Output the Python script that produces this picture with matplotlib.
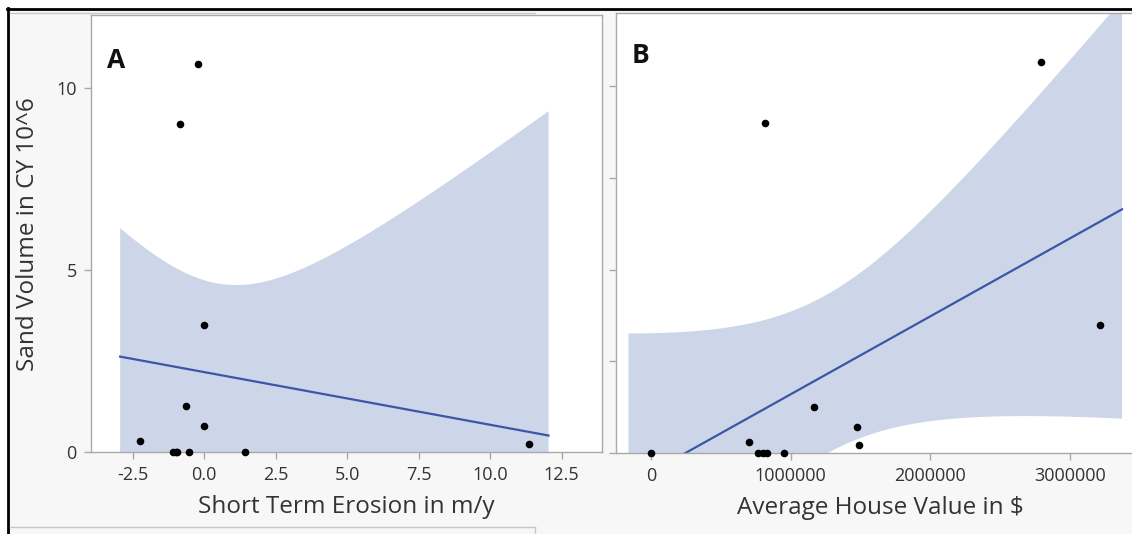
import numpy as np
import matplotlib.pyplot as plt
from matplotlib.lines import Line2D
from matplotlib.patches import Rectangle

plt.rcParams['font.family'] = ['Open Sans', 'DejaVu Sans']

# data (same sand volumes, two predictors)
sand_volume = [10.65, 9.0, 3.5, 1.26, 0.72, 0.3, 0.22, 0, 0, 0, 0, 0]
erosion = [-0.21, -0.83, -0.02, -0.65, -0.02, -2.26, 11.36, -1.08, -1.0, -0.94, -0.54, 1.44]
house_value = [2790000, 815000, 3210000, 1164000, 1477000, 703000, 1490000,
               0, 770000, 800000, 830000, 952000]

erosion_ticks = [-2.5, 0, 2.5, 5, 7.5, 10, 12.5]
erosion_labels = ['-2.5', '0.0', '2.5', '5.0', '7.5', '10.0', '12.5']
house_ticks = [0, 1000000, 2000000, 3000000]
house_labels = ['0', '1000000', '2000000', '3000000']
volume_ticks = [0, 5, 10]

T_CRIT = 2.228  # t(0.975, df=10)

W, H = 1132, 534
spine_col = '#a9a9a9'
text_col = '#333333'
band_col = '#cdd6e8'
line_col = '#3b56a6'


def fit_band(x, y):
    x = np.asarray(x, float)
    y = np.asarray(y, float)
    n = len(x)
    slope, icpt = np.polyfit(x, y, 1)
    pad = 0.05 * (x.max() - x.min())
    xs = np.linspace(x.min() - pad, x.max() + pad, 300)
    yhat = icpt + slope * xs
    resid = y - (icpt + slope * x)
    s = np.sqrt(np.sum(resid ** 2) / (n - 2))
    half = T_CRIT * s * np.sqrt(1 / n + (xs - x.mean()) ** 2 / np.sum((x - x.mean()) ** 2))
    return xs, yhat, yhat - half, yhat + half


def px_axes(left, top, right, bottom):
    return [left / W, 1 - bottom / H, (right - left) / W, (bottom - top) / H]


def style(ax):
    for sp in ax.spines.values():
        sp.set_color(spine_col)
        sp.set_linewidth(1.0)
    ax.tick_params(colors=spine_col, labelcolor=text_col, length=5, width=1,
                   labelsize=13, pad=5)


fig = plt.figure(figsize=(W / 100, H / 100), dpi=100, facecolor='#f7f7f7')

# panel A
axA = fig.add_axes(px_axes(90.7, 15, 601.7, 452.3))
xs, yh, lo, hi = fit_band(erosion, sand_volume)
axA.fill_between(xs, lo, hi, color=band_col, lw=0, zorder=1)
axA.plot(xs, yh, color=line_col, lw=1.6, zorder=2)
axA.scatter(erosion, sand_volume, s=20, color='black', zorder=3, clip_on=False)
axA.set_xlim(-3.97, 13.9)
axA.set_ylim(0, 12)
axA.set_xticks(erosion_ticks)
axA.set_xticklabels(erosion_labels)
axA.set_yticks(volume_ticks)
style(axA)
axA.set_xlabel('Short Term Erosion in m/y', fontsize=17.5, color=text_col, labelpad=8)
axA.set_ylabel('Sand Volume in CY 10^6', fontsize=17.5, color=text_col, labelpad=12)
axA.text(0.031, 0.927, 'A', transform=axA.transAxes, fontsize=19,
         fontweight='bold', va='top', ha='left', color='#111111')

# panel B
axB = fig.add_axes(px_axes(615.5, 12.5, 1145, 453.3))
xs, yh, lo, hi = fit_band(house_value, sand_volume)
axB.fill_between(xs, lo, hi, color=band_col, lw=0, zorder=1)
axB.plot(xs, yh, color=line_col, lw=1.6, zorder=2)
axB.scatter(house_value, sand_volume, s=20, color='black', zorder=3, clip_on=False)
axB.set_xlim(-253000, 3535000)
axB.set_ylim(0, 12)
axB.set_xticks(house_ticks)
axB.set_xticklabels(house_labels)
axB.set_yticks([0, 2.5, 5, 7.5, 10])
axB.set_yticklabels([])
style(axB)
axB.spines['right'].set_visible(False)
axB.set_xlabel('Average House Value in $', fontsize=17.5, color=text_col, labelpad=8)
axB.text(0.031, 0.932, 'B', transform=axB.transAxes, fontsize=19,
         fontweight='bold', va='top', ha='left', color='#111111')

# outer frame bits from the composed screenshot
fig.patches.append(Rectangle((0, 0), 7 / W, 1, transform=fig.transFigure,
                             color='white', zorder=0))
fig.patches.append(Rectangle((0, 1 - 8 / H), 1, 8 / H, transform=fig.transFigure,
                             color='white', zorder=0))
frame = [
    ([7, W], [8.5, 8.5], 'black', 2.0),
    ([8, 8], [8, H], 'black', 2.0),
    ([10, 535], [12.5, 12.5], '#c8c8c8', 1.0),
    ([10, 535], [527, 527], '#c8c8c8', 1.0),
    ([535, 535], [527, H], '#c8c8c8', 1.0),
]
for xp, yp, c, lw in frame:
    fig.lines.append(Line2D([v / W for v in xp], [1 - v / H for v in yp],
                            transform=fig.transFigure, color=c, lw=lw))

fig.savefig('out.png', dpi=100, facecolor=fig.get_facecolor())
